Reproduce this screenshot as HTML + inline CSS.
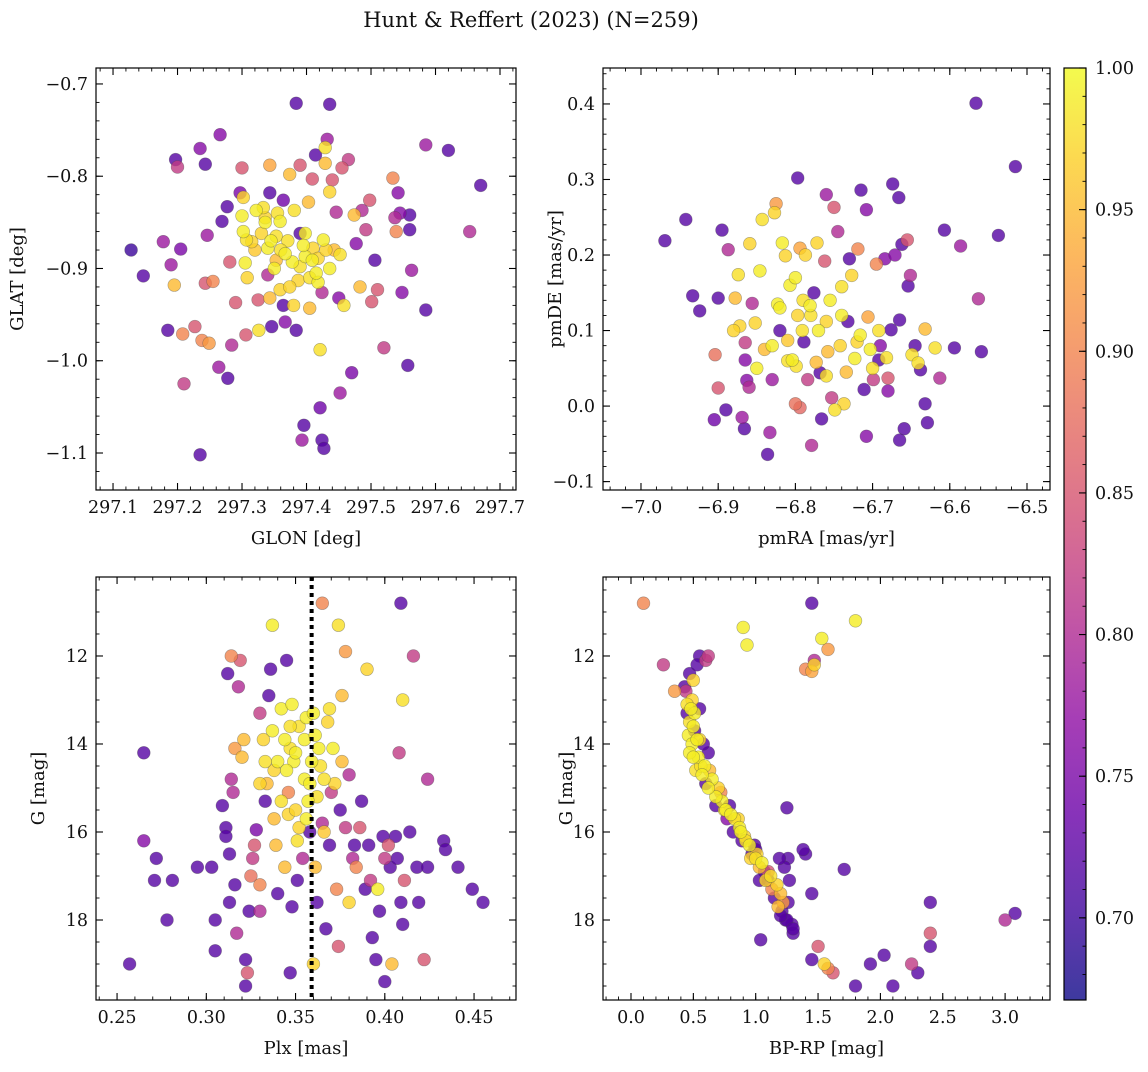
<!DOCTYPE html>
<html><head><meta charset="utf-8">
<style>
html,body{margin:0;padding:0;background:#fff;}
svg text{font-family:"DejaVu Serif","Liberation Serif",serif;fill:#111;}
</style></head>
<body>
<svg id="chart" width="1148" height="1067" viewBox="0 0 1148 1067" xmlns="http://www.w3.org/2000/svg">
<text x="531" y="27" font-size="21" text-anchor="middle">Hunt &amp; Reffert (2023) (N=259)</text>
</svg>
<script>
// ---- data: [x, y, membership probability] ----
const glonGlat = [
[297.128,-0.88,0.70],[297.147,-0.908,0.72],[297.178,-0.871,0.78],[297.197,-0.782,0.72],[297.185,-0.967,0.72],
[297.19,-0.896,0.78],[297.195,-0.918,0.95],[297.2,-0.79,0.82],[297.205,-0.879,0.75],[297.21,-1.025,0.82],
[297.208,-0.971,0.9],[297.227,-0.963,0.85],[297.235,-0.77,0.76],[297.243,-0.787,0.72],[297.235,-1.102,0.72],
[297.243,-0.916,0.85],[297.246,-0.864,0.78],[297.238,-0.978,0.9],[297.249,-0.981,0.92],[297.255,-0.914,0.9],
[297.264,-1.007,0.78],[297.266,-0.755,0.76],[297.269,-0.849,0.72],[297.277,-0.833,0.72],[297.281,-0.893,0.85],
[297.284,-0.983,0.8],[297.278,-1.019,0.72],[297.29,-0.937,0.85],[297.297,-0.818,0.75],[297.3,-0.791,0.85],
[297.302,-0.823,0.97],[297.3,-0.843,0.99],[297.302,-0.86,0.99],[297.307,-0.869,0.98],[297.305,-0.894,0.99],
[297.306,-0.972,0.85],[297.308,-0.91,0.97],[297.315,-0.871,0.97],[297.322,-0.837,0.99],[297.325,-0.934,0.85],
[297.326,-0.967,0.98],[297.333,-0.834,0.98],[297.336,-0.845,0.97],[297.34,-0.878,0.99],[297.34,-0.907,0.8],
[297.343,-0.818,0.72],[297.343,-0.932,0.95],[297.346,-0.963,0.72],[297.343,-0.788,0.93],[297.353,-0.865,0.98],
[297.353,-0.891,0.95],[297.359,-0.849,0.99],[297.359,-0.923,0.97],[297.364,-0.826,0.74],[297.364,-0.94,0.72],
[297.367,-0.958,0.76],[297.371,-0.87,0.98],[297.374,-0.798,0.95],[297.378,-0.893,0.99],[297.381,-0.837,0.98],
[297.384,-0.967,0.72],[297.384,-0.721,0.72],[297.387,-0.913,0.97],[297.39,-0.788,0.85],[297.39,-0.862,0.72],
[297.393,-1.086,0.78],[297.396,-1.07,0.72],[297.398,-0.887,0.99],[297.403,-0.828,0.95],[297.405,-0.943,0.95],
[297.409,-0.803,0.85],[297.41,-0.878,0.97],[297.414,-0.777,0.72],[297.418,-0.915,0.99],[297.421,-0.988,0.98],
[297.421,-1.051,0.74],[297.424,-1.086,0.72],[297.427,-1.095,0.72],[297.424,-0.926,0.8],[297.426,-0.869,0.99],
[297.429,-0.786,0.95],[297.429,-0.769,0.98],[297.432,-0.76,0.78],[297.436,-0.722,0.72],[297.436,-0.817,0.97],
[297.44,-0.804,0.85],[297.443,-0.88,0.95],[297.446,-0.839,0.8],[297.45,-0.932,0.76],[297.452,-1.035,0.78],
[297.455,-0.791,0.85],[297.458,-0.94,0.98],[297.465,-0.782,0.82],[297.47,-1.013,0.75],[297.474,-0.842,0.95],
[297.477,-0.873,0.76],[297.483,-0.92,0.95],[297.486,-0.837,0.8],[297.492,-0.858,0.82],[297.498,-0.826,0.85],
[297.501,-0.936,0.85],[297.506,-0.891,0.72],[297.51,-0.923,0.85],[297.52,-0.986,0.82],[297.534,-0.802,0.9],
[297.537,-0.845,0.8],[297.539,-0.86,0.9],[297.542,-0.818,0.76],[297.545,-0.84,0.76],[297.548,-0.926,0.76],
[297.56,-0.842,0.72],[297.557,-1.005,0.72],[297.56,-0.858,0.72],[297.563,-0.902,0.78],[297.585,-0.945,0.72],
[297.585,-0.766,0.78],[297.62,-0.772,0.72],[297.653,-0.86,0.8],[297.67,-0.81,0.72],
[297.367,-0.884,0.99],[297.39,-0.898,0.98],[297.409,-0.891,0.99],[297.418,-0.889,0.97],[297.436,-0.9,0.99],
[297.452,-0.885,0.98],[297.374,-0.92,0.97],[297.398,-0.862,0.99],[297.36,-0.88,0.98],[297.336,-0.85,0.99],
[297.33,-0.862,0.97],[297.35,-0.9,0.99],[297.32,-0.88,0.96],[297.415,-0.905,0.99],[297.38,-0.94,0.97],
[297.345,-0.87,0.99],[297.395,-0.875,0.99],[297.405,-0.91,0.98],[297.43,-0.88,0.97],[297.355,-0.84,0.98]
];
const pmRaDe = [
[-6.969,0.219,0.72],[-6.942,0.247,0.72],[-6.933,0.146,0.72],[-6.924,0.126,0.72],[-6.9,0.143,0.72],
[-6.895,0.233,0.72],[-6.905,-0.018,0.74],[-6.89,-0.005,0.72],[-6.904,0.068,0.88],[-6.9,0.024,0.85],
[-6.887,0.207,0.8],[-6.878,0.143,0.95],[-6.874,0.174,0.98],[-6.872,0.106,0.97],[-6.865,0.084,0.82],
[-6.865,0.061,0.76],[-6.863,0.034,0.76],[-6.869,-0.015,0.78],[-6.866,-0.03,0.72],[-6.86,0.025,0.8],
[-6.859,0.215,0.97],[-6.856,0.136,0.8],[-6.852,0.11,0.97],[-6.846,0.179,0.99],[-6.843,0.247,0.98],
[-6.84,0.075,0.95],[-6.836,-0.064,0.72],[-6.833,-0.035,0.78],[-6.83,0.035,0.78],[-6.827,0.256,0.97],
[-6.825,0.268,0.92],[-6.823,0.135,0.99],[-6.82,0.1,0.72],[-6.817,0.216,0.99],[-6.813,0.199,0.97],
[-6.81,0.087,0.96],[-6.807,0.16,0.99],[-6.804,0.061,0.99],[-6.8,0.003,0.88],[-6.799,0.053,0.98],
[-6.797,0.12,0.97],[-6.794,0.209,0.93],[-6.794,-0.002,0.87],[-6.791,0.1,0.98],[-6.789,0.085,0.72],
[-6.787,0.2,0.97],[-6.784,0.035,0.82],[-6.781,0.133,0.99],[-6.779,-0.052,0.8],[-6.776,0.15,0.72],
[-6.773,0.058,0.95],[-6.772,0.216,0.97],[-6.768,0.044,0.72],[-6.766,-0.017,0.72],[-6.762,0.192,0.85],
[-6.76,0.112,0.97],[-6.758,0.072,0.95],[-6.755,0.14,0.99],[-6.753,0.011,0.82],[-6.749,-0.005,0.98],
[-6.745,0.231,0.8],[-6.742,0.08,0.97],[-6.74,0.158,0.98],[-6.737,0.003,0.97],[-6.734,0.045,0.95],
[-6.732,0.112,0.72],[-6.73,0.195,0.72],[-6.727,0.173,0.97],[-6.723,0.063,0.99],[-6.797,0.302,0.72],
[-6.719,0.208,0.9],[-6.716,0.094,0.99],[-6.711,0.022,0.72],[-6.708,0.26,0.76],[-6.706,0.118,0.93],
[-6.703,0.075,0.99],[-6.699,0.035,0.82],[-6.695,0.188,0.9],[-6.692,0.1,0.98],[-6.69,0.08,0.76],
[-6.684,0.195,0.76],[-6.682,0.064,0.98],[-6.68,0.02,0.76],[-6.76,0.28,0.78],[-6.75,0.263,0.85],
[-6.671,0.2,0.76],[-6.665,0.114,0.72],[-6.662,0.214,0.72],[-6.659,-0.03,0.72],[-6.655,0.22,0.85],
[-6.651,0.173,0.8],[-6.649,0.068,0.98],[-6.641,0.057,0.98],[-6.638,0.048,0.72],[-6.632,0.003,0.72],
[-6.632,0.102,0.95],[-6.715,0.286,0.72],[-6.708,-0.04,0.76],[-6.619,0.077,0.98],[-6.613,0.037,0.8],
[-6.607,0.233,0.72],[-6.674,0.294,0.72],[-6.666,0.276,0.72],[-6.586,0.212,0.78],[-6.665,-0.045,0.72],
[-6.676,0.101,0.72],[-6.654,0.159,0.72],[-6.68,0.037,0.85],[-6.645,0.08,0.72],[-6.629,-0.022,0.72],
[-6.566,0.401,0.72],[-6.515,0.317,0.72],[-6.537,0.226,0.72],[-6.563,0.142,0.8],[-6.559,0.072,0.72],
[-6.594,0.077,0.72],[-6.692,0.061,0.72],[-6.7,0.05,0.98],[-6.82,0.13,0.99],[-6.78,0.12,0.98],
[-6.85,0.05,0.99],[-6.88,0.1,0.97],[-6.8,0.17,0.99],[-6.76,0.04,0.98],[-6.83,0.08,0.99],
[-6.77,0.1,0.99],[-6.79,0.14,0.98],[-6.74,0.12,0.99],[-6.81,0.06,0.98],[-6.72,0.085,0.97]
];
const plxG = [
[0.257,19.0,0.72],[0.265,14.2,0.72],[0.265,16.2,0.76],[0.272,16.6,0.72],[0.271,17.1,0.72],
[0.278,18.0,0.72],[0.281,17.1,0.72],[0.295,16.8,0.72],[0.303,16.8,0.72],[0.305,18.7,0.72],
[0.305,18.0,0.72],[0.309,15.4,0.72],[0.311,15.9,0.72],[0.312,12.4,0.72],[0.311,16.1,0.72],
[0.313,16.5,0.72],[0.313,17.6,0.72],[0.314,12.0,0.9],[0.314,14.8,0.8],[0.315,15.1,0.8],
[0.316,14.1,0.92],[0.316,17.2,0.72],[0.317,18.3,0.8],[0.318,12.7,0.8],[0.319,12.1,0.85],
[0.32,14.3,0.95],[0.321,13.9,0.95],[0.322,18.9,0.72],[0.322,19.5,0.72],[0.323,19.2,0.85],
[0.324,17.8,0.72],[0.325,17.0,0.88],[0.326,16.6,0.82],[0.327,16.3,0.85],[0.328,15.95,0.75],
[0.33,17.8,0.8],[0.33,17.2,0.9],[0.33,13.3,0.82],[0.332,13.9,0.97],[0.333,15.3,0.72],
[0.333,14.4,0.98],[0.334,14.9,0.95],[0.335,12.9,0.72],[0.336,12.3,0.72],[0.337,11.3,0.99],
[0.337,13.7,0.99],[0.338,14.6,0.97],[0.338,15.7,0.95],[0.339,16.3,0.95],[0.34,14.4,0.99],
[0.34,17.4,0.72],[0.342,13.2,0.99],[0.344,13.9,0.99],[0.344,16.8,0.95],[0.345,12.1,0.72],
[0.346,15.1,0.9],[0.346,15.6,0.97],[0.347,14.1,0.98],[0.347,19.2,0.72],[0.348,13.1,0.99],
[0.348,17.7,0.72],[0.349,14.4,0.99],[0.35,15.5,0.97],[0.351,16.2,0.98],[0.351,17.1,0.72],
[0.352,13.6,0.98],[0.354,16.6,0.8],[0.355,14.8,0.99],[0.356,13.4,0.99],[0.357,15.3,0.99],
[0.358,16.0,0.72],[0.359,14.4,0.99],[0.36,13.3,0.99],[0.36,19.0,0.97],[0.361,16.8,0.95],
[0.362,17.6,0.72],[0.363,14.1,0.99],[0.365,10.8,0.9],[0.365,15.8,0.8],[0.366,14.8,0.98],
[0.367,18.2,0.72],[0.368,13.5,0.97],[0.369,16.3,0.72],[0.37,15.1,0.82],[0.371,14.1,0.99],
[0.373,17.3,0.9],[0.374,11.3,0.98],[0.374,18.6,0.85],[0.375,15.5,0.72],[0.376,14.4,0.95],
[0.376,12.9,0.95],[0.378,11.9,0.92],[0.378,15.9,0.82],[0.38,17.6,0.97],[0.38,14.7,0.8],
[0.382,16.6,0.8],[0.383,16.3,0.72],[0.384,16.8,0.9],[0.386,15.9,0.85],[0.387,15.3,0.72],
[0.389,17.3,0.72],[0.39,12.3,0.97],[0.391,16.3,0.72],[0.392,17.1,0.82],[0.393,18.4,0.72],
[0.395,18.9,0.72],[0.396,17.3,0.99],[0.397,17.8,0.72],[0.399,16.1,0.72],[0.4,19.4,0.72],
[0.4,16.6,0.82],[0.402,16.3,0.85],[0.403,16.8,0.72],[0.404,19.0,0.95],[0.406,16.1,0.72],
[0.407,16.6,0.72],[0.409,17.6,0.72],[0.41,13.0,0.98],[0.409,10.8,0.72],[0.408,14.2,0.82],
[0.41,18.1,0.72],[0.411,17.1,0.85],[0.414,16.0,0.72],[0.416,12.0,0.82],[0.418,16.8,0.72],
[0.419,17.6,0.72],[0.422,18.9,0.85],[0.424,16.8,0.72],[0.424,14.8,0.8],[0.433,16.2,0.72],
[0.434,16.4,0.72],[0.441,16.8,0.72],[0.449,17.3,0.72],[0.455,17.6,0.72],
[0.355,13.9,0.99],[0.362,15.2,0.98],[0.345,14.6,0.99],[0.358,14.9,0.99],[0.369,13.2,0.98],
[0.352,15.9,0.97],[0.366,16.0,0.96],[0.342,15.3,0.98],[0.361,13.8,0.99],[0.33,14.9,0.97],
[0.35,14.2,0.99],[0.364,14.5,0.98],[0.356,15.7,0.99],[0.347,13.6,0.98],[0.372,14.9,0.97]
];
const bprpG = [
[0.10,10.8,0.9],[0.26,12.2,0.82],[0.35,12.8,0.92],[0.43,12.7,0.72],[0.47,12.4,0.72],
[0.55,12.0,0.72],[0.6,12.1,0.82],[0.62,12.0,0.82],[0.49,13.0,0.97],[0.51,13.3,0.99],
[0.47,13.5,0.98],[0.46,13.8,0.99],[0.49,14.0,0.99],[0.51,13.7,0.72],[0.54,14.3,0.99],
[0.55,13.9,0.97],[0.59,14.5,0.99],[0.62,14.2,0.72],[0.65,14.8,0.99],[0.6,14.9,0.72],
[0.7,15.0,0.97],[0.73,15.3,0.99],[0.76,15.5,0.99],[0.79,15.4,0.72],[0.83,15.7,0.98],
[0.87,15.9,0.99],[0.91,16.1,0.97],[0.95,16.3,0.99],[0.99,16.3,0.72],[1.01,16.5,0.97],
[1.03,16.8,0.95],[1.07,16.9,0.72],[1.1,17.1,0.72],[1.13,17.3,0.9],[1.15,17.5,0.72],
[1.18,17.7,0.95],[1.21,17.8,0.72],[1.24,18.0,0.72],[1.29,18.1,0.72],[1.3,18.3,0.72],
[1.04,18.45,0.72],[1.03,17.1,0.72],[0.97,16.5,0.72],[0.89,16.2,0.72],[0.82,16.0,0.72],
[0.77,15.7,0.76],[0.68,15.4,0.72],[1.25,15.45,0.72],[1.4,16.5,0.72],[1.26,16.6,0.72],
[1.23,16.8,0.72],[1.19,16.6,0.72],[1.27,17.1,0.72],[1.2,17.4,0.95],[1.26,17.6,0.72],
[1.25,18.0,0.72],[1.45,17.4,0.72],[1.71,16.85,0.72],[1.5,18.6,0.85],[1.45,18.9,0.72],
[1.55,19.0,0.97],[1.58,19.1,0.9],[1.62,19.2,0.85],[1.8,19.5,0.72],[1.92,19.0,0.72],
[2.03,18.8,0.72],[2.1,19.5,0.72],[2.25,19.0,0.82],[2.3,19.2,0.72],[2.4,18.3,0.85],
[2.4,18.6,0.72],[2.4,17.6,0.72],[3.0,18.0,0.8],[3.08,17.85,0.72],[1.38,16.4,0.72],
[1.45,10.8,0.72],[1.8,11.2,0.99],[1.53,11.6,0.99],[1.58,11.85,0.92],[1.47,12.2,0.97],
[1.4,12.3,0.9],[1.45,12.35,0.93],[0.9,11.35,0.99],[0.93,11.75,0.99],[1.47,12.1,0.8],
[0.44,12.8,0.82],[0.53,12.2,0.72],[0.5,12.55,0.97],[0.45,13.3,0.72],[0.5,13.6,0.99],
[0.47,14.2,0.99],[0.52,14.6,0.98],[0.57,14.7,0.99],[0.63,14.6,0.95],[0.68,15.2,0.99],
[0.72,15.1,0.9],[0.8,15.6,0.99],[0.86,15.7,0.97],[0.92,16.2,0.98],[0.96,16.6,0.97],
[1.05,16.7,0.99],[1.12,17.0,0.98],[1.17,17.2,0.97],[1.22,17.6,0.92],[1.3,18.2,0.72],
[1.0,16.4,0.72],[1.1,16.9,0.85],[1.2,17.9,0.72],[0.55,13.2,0.72],[0.58,14.0,0.72],
[0.48,13.2,0.99],[0.5,14.3,0.99],[0.56,14.5,0.98],[0.62,15.0,0.99],[0.75,15.5,0.98],
[0.88,16.0,0.99],[1.0,16.6,0.98],[1.08,17.1,0.97],[0.53,13.9,0.99],[0.45,13.1,0.98]
];
// colorbar
const cbTicks = [0.70,0.75,0.80,0.85,0.90,0.95,1.00];
const cMin = 0.671, cMax = 1.0;

const NS = "http://www.w3.org/2000/svg";
const svg = document.getElementById('chart');
function mk(tag, attrs, parent){const e=document.createElementNS(NS,tag);for(const k in attrs)e.setAttribute(k,attrs[k]);(parent||svg).appendChild(e);return e;}

const plasma=["#0d0887","#41049d","#6a00a8","#8f0da4","#b12a90","#cc4778","#e16462","#f2844b","#fca636","#fcce25","#f0f921"];
function hex(h){return [1,3,5].map(i=>parseInt(h.substr(i,2),16));}
function cmap(t){t=Math.max(0,Math.min(1,t));const s=t*10;const i=Math.min(9,Math.floor(s));const f=s-i;const a=hex(plasma[i]),b=hex(plasma[i+1]);return 'rgb('+a.map((v,k)=>Math.round(v+(b[k]-v)*f)).join(',')+')';}
function colorOf(c){return cmap((c-cMin)/(cMax-cMin));}
function fmt(v,d){return (v<0?'\u2212':'')+Math.abs(v).toFixed(d);}
const TF=17.5, LF=18;

function panel(o, pts){
  const g=mk('g',{});
  
  
  const sx=v=>o.x0+(v-o.xmin)/(o.xmax-o.xmin)*(o.x1-o.x0);
  const sy=v=>o.inv? o.y0+(v-o.ymin)/(o.ymax-o.ymin)*(o.y1-o.y0) : o.y1-(v-o.ymin)/(o.ymax-o.ymin)*(o.y1-o.y0);
  const cid='clip-'+o.name;
  const cp=mk('clipPath',{id:cid},g);mk('rect',{x:o.x0,y:o.y0,width:o.x1-o.x0,height:o.y1-o.y0},cp);
  const pg=mk('g',{'clip-path':'url(#'+cid+')'},g);
  pts.slice().sort((a,b)=>a[2]-b[2]).forEach(p=>{
    const c=mk('circle',{cx:sx(p[0]).toFixed(1),cy:sy(p[1]).toFixed(1),r:6.4,fill:colorOf(p[2]),'fill-opacity':0.8,stroke:'rgba(70,70,70,0.45)','stroke-width':0.6},pg);
    
    
  });
  if(o.vline!==undefined){
    const l=mk('line',{x1:sx(o.vline),x2:sx(o.vline),y1:o.y0,y2:o.y1,stroke:'#000','stroke-width':4,'stroke-dasharray':'4,4'},g);
    
    
  }
  const fr=mk('rect',{x:o.x0,y:o.y0,width:o.x1-o.x0,height:o.y1-o.y0,fill:'none',stroke:'#000','stroke-width':1.2},g);
  
  
  const eps=1e-9;
  for(let v=Math.ceil((o.xmin)/o.xminor-eps)*o.xminor; v<=o.xmax+eps; v+=o.xminor){
    const X=sx(v);mk('line',{x1:X,x2:X,y1:o.y1,y2:o.y1-3.5,stroke:'#000','stroke-width':0.9},g);mk('line',{x1:X,x2:X,y1:o.y0,y2:o.y0+3.5,stroke:'#000','stroke-width':0.9},g);
  }
  o.xticks.forEach(v=>{const X=sx(v);mk('line',{x1:X,x2:X,y1:o.y1,y2:o.y1-7,stroke:'#000','stroke-width':1.1},g);mk('line',{x1:X,x2:X,y1:o.y0,y2:o.y0+7,stroke:'#000','stroke-width':1.1},g);
    const t=mk('text',{x:X,y:o.y1+23,'font-size':TF,'text-anchor':'middle'},g);t.textContent=fmt(v,o.xd);
    
    });
  for(let v=Math.ceil((Math.min(o.ymin,o.ymax))/o.yminor-eps)*o.yminor; v<=Math.max(o.ymin,o.ymax)+eps; v+=o.yminor){
    const Y=sy(v);mk('line',{x1:o.x0,x2:o.x0+3.5,y1:Y,y2:Y,stroke:'#000','stroke-width':0.9},g);mk('line',{x1:o.x1,x2:o.x1-3.5,y1:Y,y2:Y,stroke:'#000','stroke-width':0.9},g);
  }
  o.yticks.forEach(v=>{const Y=sy(v);mk('line',{x1:o.x0,x2:o.x0+7,y1:Y,y2:Y,stroke:'#000','stroke-width':1.1},g);mk('line',{x1:o.x1,x2:o.x1-7,y1:Y,y2:Y,stroke:'#000','stroke-width':1.1},g);
    const t=mk('text',{x:o.x0-8,y:Y+6,'font-size':TF,'text-anchor':'end'},g);t.textContent=fmt(v,o.yd);
    
    });
  const xl=mk('text',{x:(o.x0+o.x1)/2,y:o.y1+54,'font-size':LF,'text-anchor':'middle'},g);xl.textContent=o.xlabel;
  
  
  const yx=o.ylx, yy=(o.y0+o.y1)/2;
  const yl=mk('text',{x:yx,y:yy,'font-size':LF,'text-anchor':'middle',transform:'rotate(-90 '+yx+' '+yy+')'},g);yl.textContent=o.ylabel;
  
  
}

panel({name:'glon-glat-panel',x0:96,x1:516,y0:68,y1:490,xmin:297.0736,xmax:297.7248,ymin:-1.1401,ymax:-0.6827,
  xticks:[297.1,297.2,297.3,297.4,297.5,297.6,297.7],xd:1,xminor:0.02,yticks:[-1.1,-1.0,-0.9,-0.8,-0.7],yd:1,yminor:0.02,
  xlabel:'GLON [deg]',ylabel:'GLAT [deg]',ylx:23},glonGlat);
panel({name:'pm-panel',x0:603,x1:1050,y0:68,y1:490,xmin:-7.0492,xmax:-6.4702,ymin:-0.1111,ymax:0.4476,
  xticks:[-7.0,-6.9,-6.8,-6.7,-6.6,-6.5],xd:1,xminor:0.02,yticks:[-0.1,0.0,0.1,0.2,0.3,0.4],yd:1,yminor:0.02,
  xlabel:'pmRA [mas/yr]',ylabel:'pmDE [mas/yr]',ylx:561},pmRaDe);
panel({name:'plx-g-panel',x0:96,x1:516,y0:577,y1:1000,xmin:0.2382,xmax:0.4735,ymin:10.205,ymax:19.818,inv:true,
  xticks:[0.25,0.30,0.35,0.40,0.45],xd:2,xminor:0.01,yticks:[12,14,16,18],yd:0,yminor:0.5,
  xlabel:'Plx [mas]',ylabel:'G [mag]',ylx:44,vline:0.359},plxG);
panel({name:'cmd-panel',x0:603,x1:1050,y0:577,y1:1000,xmin:-0.2245,xmax:3.36,ymin:10.205,ymax:19.818,inv:true,
  xticks:[0.0,0.5,1.0,1.5,2.0,2.5,3.0],xd:1,xminor:0.1,yticks:[12,14,16,18],yd:0,yminor:0.5,
  xlabel:'BP-RP [mag]',ylabel:'G [mag]',ylx:572},bprpG);

(function(){
  const x0=1064,x1=1086,y0=68,y1=1000;
  const g=mk('g',{});
  
  
  const defs=mk('defs',{},g);
  const lg=mk('linearGradient',{id:'cbgrad',x1:0,y1:1,x2:0,y2:0},defs);
  for(let i=0;i<=20;i++){mk('stop',{offset:(i/20),'stop-color':cmap(i/20),'stop-opacity':0.8},lg);}
  mk('rect',{x:x0,y:y0,width:x1-x0,height:y1-y0,fill:'url(#cbgrad)',stroke:'#000','stroke-width':1.2},g);
  const sy=v=>y1-(v-cMin)/(cMax-cMin)*(y1-y0);
  for(let v=0.68; v<=1.0001; v+=0.01){const Y=sy(v);mk('line',{x1:x1,x2:x1-3.5,y1:Y,y2:Y,stroke:'#000','stroke-width':0.9},g);}
  cbTicks.forEach(v=>{const Y=sy(v);mk('line',{x1:x1,x2:x1-7,y1:Y,y2:Y,stroke:'#000','stroke-width':1.1},g);
    const t=mk('text',{x:x1+9,y:Y+6,'font-size':TF},g);t.textContent=v.toFixed(2);
    
    });
})();
</script>
</body></html>
